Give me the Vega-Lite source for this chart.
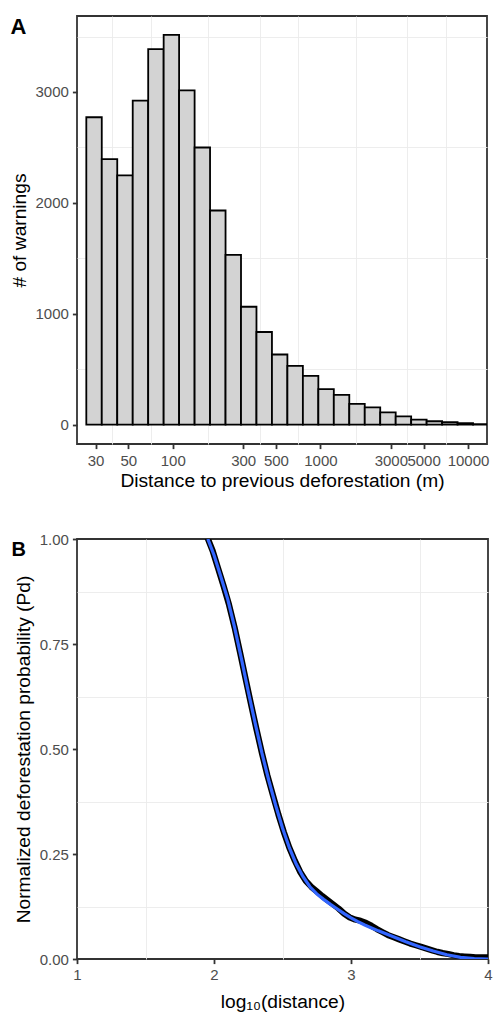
{
  "$schema": "https://vega.github.io/schema/vega-lite/v6.json",
  "padding": {"left": 9, "top": 14, "right": 0, "bottom": 0},
  "autosize": {"type": "pad"},
  "spacing": 39,
  "config": {
    "font": "Liberation Sans",
    "view": {"stroke": "#333333", "strokeWidth": 1.8},
    "axis": {
      "labelFont": "Liberation Sans", "labelFontSize": 15, "labelColor": "#4D4D4D",
      "titleFont": "Liberation Sans", "titleFontSize": 19.2, "titleColor": "#000000", "titleFontWeight": "normal",
      "tickColor": "#333333", "tickSize": 4.6, "tickWidth": 1.8,
      "gridColor": "#EBEBEB", "gridWidth": 1.8,
      "domain": false, "labelPadding": 4, "labelOverlap": false, "labelFlush": false
    }
  },
  "vconcat": [
    {
      "width": 410,
      "height": 428,
      "data": {"values": [
        {"lo": 25.97, "hi": 33.05, "count": 2772},
        {"lo": 33.05, "hi": 42.07, "count": 2394},
        {"lo": 42.07, "hi": 53.56, "count": 2247},
        {"lo": 53.56, "hi": 68.17, "count": 2922},
        {"lo": 68.17, "hi": 86.77, "count": 3387},
        {"lo": 86.77, "hi": 110.4, "count": 3515},
        {"lo": 110.4, "hi": 140.6, "count": 3015},
        {"lo": 140.6, "hi": 178.9, "count": 2499},
        {"lo": 178.9, "hi": 227.8, "count": 1931},
        {"lo": 227.8, "hi": 289.9, "count": 1530},
        {"lo": 289.9, "hi": 369.0, "count": 1063},
        {"lo": 369.0, "hi": 469.7, "count": 835},
        {"lo": 469.7, "hi": 597.7, "count": 632},
        {"lo": 597.7, "hi": 760.9, "count": 530},
        {"lo": 760.9, "hi": 968.5, "count": 440},
        {"lo": 968.5, "hi": 1232.8, "count": 320},
        {"lo": 1232.8, "hi": 1569.2, "count": 268},
        {"lo": 1569.2, "hi": 1997.3, "count": 187},
        {"lo": 1997.3, "hi": 2542.2, "count": 155},
        {"lo": 2542.2, "hi": 3235.9, "count": 110},
        {"lo": 3235.9, "hi": 4118.9, "count": 75},
        {"lo": 4118.9, "hi": 5242.8, "count": 45},
        {"lo": 5242.8, "hi": 6673.0, "count": 30},
        {"lo": 6673.0, "hi": 8494.0, "count": 21},
        {"lo": 8494.0, "hi": 10812.0, "count": 13},
        {"lo": 10812.0, "hi": 13763.0, "count": 4}
      ]},
      "resolve": {"axis": {"x": "independent", "y": "independent"}},
      "layer": [
        {
          "mark": {"type": "bar", "opacity": 0, "clip": true},
          "encoding": {
            "x": {"field": "lo", "type": "quantitative", "scale": {"type": "log", "domain": [22.46, 13441], "nice": false},
                  "axis": {"orient": "bottom", "values": [38.73, 70.71, 173.2, 387.3, 707.1, 1732, 3873, 7071], "grid": true, "gridWidth": 0.9, "labels": false, "ticks": false, "title": null, "domain": false, "minExtent": 0, "maxExtent": 0}},
            "x2": {"field": "hi"},
            "y": {"field": "count", "type": "quantitative", "scale": {"domain": [-175, 3685], "nice": false, "zero": false},
                  "axis": {"orient": "left", "values": [500, 1500, 2500, 3500], "grid": true, "gridWidth": 0.9, "labels": false, "ticks": false, "domain": false, "minExtent": 0, "maxExtent": 0,
                           "title": "A", "titleAngle": 0, "titleAnchor": "end", "titleAlign": "left", "titleBaseline": "top", "titleFontSize": 22, "titleFontWeight": "bold", "titlePadding": 67}},
            "y2": {"datum": 0}
          }
        },
        {
          "mark": {"type": "bar", "fill": "#D3D3D3", "stroke": "#000000", "strokeWidth": 1.8, "clip": true},
          "encoding": {
            "x": {"field": "lo", "type": "quantitative",
                  "axis": {"orient": "bottom", "values": [30, 50, 100, 300, 500, 1000, 3000, 5000, 10000], "format": "d", "title": "Distance to previous deforestation (m)", "labelPadding": 5, "titlePadding": 3}},
            "x2": {"field": "hi"},
            "y": {"field": "count", "type": "quantitative",
                  "axis": {"orient": "left", "values": [0, 1000, 2000, 3000], "format": "d", "title": "# of warnings", "titlePadding": 6}},
            "y2": {"datum": 0}
          }
        }
      ]
    },
    {
      "width": 411,
      "height": 420,
      "data": {"values": [
        {"series": "obs", "x": 1.95, "y": 1.005}, {"series": "obs", "x": 1.99, "y": 0.972}, {"series": "obs", "x": 2.03, "y": 0.93},
        {"series": "obs", "x": 2.07, "y": 0.888}, {"series": "obs", "x": 2.11, "y": 0.843}, {"series": "obs", "x": 2.15, "y": 0.79},
        {"series": "obs", "x": 2.19, "y": 0.73}, {"series": "obs", "x": 2.23, "y": 0.668}, {"series": "obs", "x": 2.27, "y": 0.607},
        {"series": "obs", "x": 2.31, "y": 0.547}, {"series": "obs", "x": 2.35, "y": 0.49}, {"series": "obs", "x": 2.39, "y": 0.437},
        {"series": "obs", "x": 2.43, "y": 0.39}, {"series": "obs", "x": 2.47, "y": 0.344}, {"series": "obs", "x": 2.51, "y": 0.302},
        {"series": "obs", "x": 2.55, "y": 0.265}, {"series": "obs", "x": 2.59, "y": 0.234}, {"series": "obs", "x": 2.63, "y": 0.207},
        {"series": "obs", "x": 2.67, "y": 0.186}, {"series": "obs", "x": 2.71, "y": 0.172}, {"series": "obs", "x": 2.75, "y": 0.161},
        {"series": "obs", "x": 2.79, "y": 0.15}, {"series": "obs", "x": 2.83, "y": 0.14}, {"series": "obs", "x": 2.87, "y": 0.13},
        {"series": "obs", "x": 2.91, "y": 0.12}, {"series": "obs", "x": 2.95, "y": 0.108}, {"series": "obs", "x": 2.99, "y": 0.099},
        {"series": "obs", "x": 3.03, "y": 0.094}, {"series": "obs", "x": 3.07, "y": 0.091}, {"series": "obs", "x": 3.11, "y": 0.086},
        {"series": "obs", "x": 3.15, "y": 0.079}, {"series": "obs", "x": 3.19, "y": 0.071}, {"series": "obs", "x": 3.23, "y": 0.064},
        {"series": "obs", "x": 3.27, "y": 0.057}, {"series": "obs", "x": 3.31, "y": 0.052}, {"series": "obs", "x": 3.35, "y": 0.047},
        {"series": "obs", "x": 3.39, "y": 0.042}, {"series": "obs", "x": 3.43, "y": 0.037}, {"series": "obs", "x": 3.47, "y": 0.033},
        {"series": "obs", "x": 3.51, "y": 0.029}, {"series": "obs", "x": 3.55, "y": 0.025}, {"series": "obs", "x": 3.59, "y": 0.021},
        {"series": "obs", "x": 3.63, "y": 0.017}, {"series": "obs", "x": 3.67, "y": 0.014}, {"series": "obs", "x": 3.71, "y": 0.012},
        {"series": "obs", "x": 3.75, "y": 0.009}, {"series": "obs", "x": 3.79, "y": 0.007}, {"series": "obs", "x": 3.83, "y": 0.006},
        {"series": "obs", "x": 3.87, "y": 0.005}, {"series": "obs", "x": 3.91, "y": 0.004}, {"series": "obs", "x": 3.95, "y": 0.004},
        {"series": "obs", "x": 4.0, "y": 0.004},
        {"series": "fit", "x": 1.955, "y": 1.0}, {"series": "fit", "x": 2.0, "y": 0.962}, {"series": "fit", "x": 2.05, "y": 0.91},
        {"series": "fit", "x": 2.1, "y": 0.857}, {"series": "fit", "x": 2.15, "y": 0.79}, {"series": "fit", "x": 2.2, "y": 0.715},
        {"series": "fit", "x": 2.25, "y": 0.637}, {"series": "fit", "x": 2.3, "y": 0.562}, {"series": "fit", "x": 2.35, "y": 0.49},
        {"series": "fit", "x": 2.4, "y": 0.425}, {"series": "fit", "x": 2.45, "y": 0.366}, {"series": "fit", "x": 2.5, "y": 0.312},
        {"series": "fit", "x": 2.55, "y": 0.265}, {"series": "fit", "x": 2.6, "y": 0.226}, {"series": "fit", "x": 2.65, "y": 0.196},
        {"series": "fit", "x": 2.7, "y": 0.172}, {"series": "fit", "x": 2.75, "y": 0.155}, {"series": "fit", "x": 2.8, "y": 0.142},
        {"series": "fit", "x": 2.85, "y": 0.13}, {"series": "fit", "x": 2.9, "y": 0.119}, {"series": "fit", "x": 2.95, "y": 0.108},
        {"series": "fit", "x": 3.0, "y": 0.098}, {"series": "fit", "x": 3.05, "y": 0.089}, {"series": "fit", "x": 3.1, "y": 0.081},
        {"series": "fit", "x": 3.15, "y": 0.074}, {"series": "fit", "x": 3.2, "y": 0.067}, {"series": "fit", "x": 3.3, "y": 0.054},
        {"series": "fit", "x": 3.4, "y": 0.041}, {"series": "fit", "x": 3.5, "y": 0.029}, {"series": "fit", "x": 3.6, "y": 0.019},
        {"series": "fit", "x": 3.7, "y": 0.01}, {"series": "fit", "x": 3.8, "y": 0.004}, {"series": "fit", "x": 3.9, "y": 0.001},
        {"series": "fit", "x": 4.0, "y": 0.0}
      ]},
      "resolve": {"axis": {"x": "independent", "y": "independent"}},
      "layer": [
        {
          "transform": [{"filter": "datum.series === 'obs'"}],
          "mark": {"type": "line", "color": "#000000", "strokeWidth": 6.2, "clip": true, "strokeJoin": "round", "strokeCap": "round"},
          "encoding": {
            "x": {"field": "x", "type": "quantitative", "scale": {"domain": [1, 4], "nice": false, "zero": false},
                  "axis": {"orient": "bottom", "values": [1.5, 2.5, 3.5], "grid": true, "gridWidth": 0.9, "labels": false, "ticks": false, "title": null, "domain": false, "minExtent": 0, "maxExtent": 0}},
            "y": {"field": "y", "type": "quantitative", "scale": {"domain": [0, 1], "nice": false, "zero": false},
                  "axis": {"orient": "left", "values": [0.125, 0.375, 0.625, 0.875], "grid": true, "gridWidth": 0.9, "labels": false, "ticks": false, "domain": false, "minExtent": 0, "maxExtent": 0,
                           "title": "B", "titleAngle": 0, "titleAnchor": "end", "titleAlign": "left", "titleBaseline": "top", "titleFontSize": 20, "titleFontWeight": "bold", "titlePadding": 66}}
          }
        },
        {
          "transform": [{"filter": "datum.series === 'fit'"}],
          "mark": {"type": "line", "color": "#3366FF", "strokeWidth": 3.2, "clip": true},
          "encoding": {
            "x": {"field": "x", "type": "quantitative",
                  "axis": {"orient": "bottom", "values": [1, 2, 3, 4], "format": "d", "title": "log₁₀(distance)", "labelPadding": 4, "titlePadding": 10}},
            "y": {"field": "y", "type": "quantitative",
                  "axis": {"orient": "left", "values": [0, 0.25, 0.5, 0.75, 1], "format": ".2f", "title": "Normalized deforestation probability (Pd)", "titlePadding": 6}}
          }
        }
      ]
    }
  ]
}
